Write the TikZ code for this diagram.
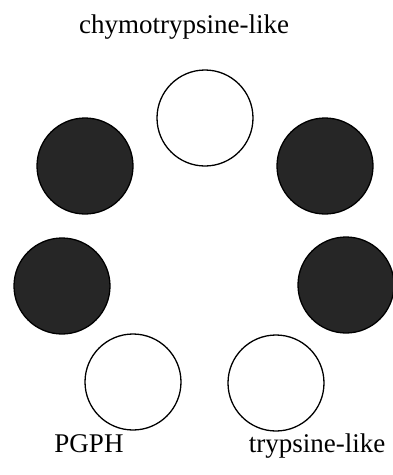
\documentclass[tikz,border=0pt]{standalone}
\usepackage{fontspec}
\setmainfont{Liberation Serif}
\begin{document}
\begin{tikzpicture}[x=1pt,y=-1pt,
  site/.style={circle,draw=black,line width=1.3pt,minimum size=96pt,inner sep=0pt},
  active/.style={site,fill=white},
  inactive/.style={site,fill=black!85,draw=black},
  lbl/.style={font=\fontsize{27}{30}\selectfont,inner sep=0pt,anchor=base}]
\useasboundingbox (0,0) rectangle (392,475);
\node[active]   (c1) at (205,118) {};
\node[inactive] (c2) at (85,166) {};
\node[inactive] (c3) at (325,166) {};
\node[inactive] (c4) at (62,286) {};
\node[inactive] (c5) at (346,285) {};
\node[active]   (c6) at (133,382) {};
\node[active]   (c7) at (276,383) {};
\node[lbl] (t1) at (184,33) {chymotrypsine-like};
\node[lbl] (t2) at (89,452) {PGPH};
\node[lbl] (t3) at (317,452) {trypsine-like};
\end{tikzpicture}
\end{document}
